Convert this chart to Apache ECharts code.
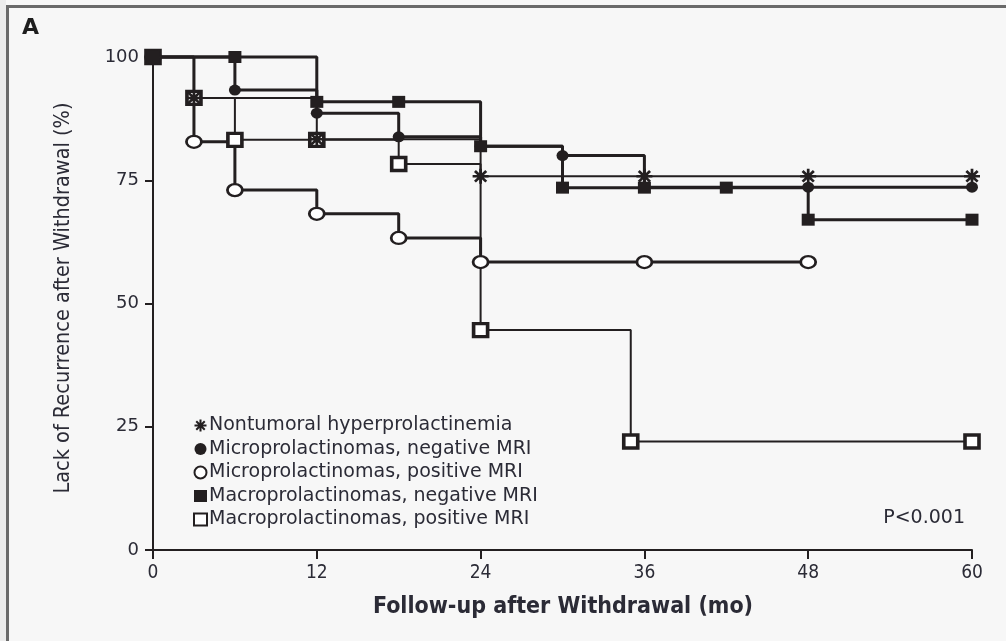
<!DOCTYPE html>
<html>
<head>
<meta charset="utf-8">
<title>Lack of Recurrence after Withdrawal</title>
<script src="https://cdn.jsdelivr.net/npm/echarts/dist/echarts.min.js"></script>
<style>
    html, body { margin: 0; padding: 0; background: #f7f7f7; }
    #main { width: 1006px; height: 641px; }
</style>
</head>
<body>
<div id="main"></div>
<script>
// x 轴刻度（月）
var xTicks = [0, 12, 24, 36, 48, 60];
// y 轴刻度（%）
var yTicks = [0, 25, 50, 75, 100];

// 各组名称
var groupNames = [
    'Nontumoral hyperprolactinemia',
    'Microprolactinomas, negative MRI',
    'Microprolactinomas, positive MRI',
    'Macroprolactinomas, negative MRI',
    'Macroprolactinomas, positive MRI'
];

// Kaplan-Meier 阶梯点：时间 / 无复发比例
var nontumoralTime = [0, 3, 12, 24, 36, 48, 60];
var nontumoralPct  = [100, 91.7, 83.3, 75.8, 75.8, 75.8, 75.8];

var microNegTime = [0, 6, 12, 18, 24, 30, 36, 48, 60];
var microNegPct  = [100, 93.3, 88.6, 83.8, 81.9, 80.0, 73.6, 73.6, 73.6];

var microPosTime = [0, 3, 6, 12, 18, 24, 36, 48];
var microPosPct  = [100, 82.8, 73.0, 68.2, 63.3, 58.4, 58.4, 58.4];

var macroNegTime = [0, 6, 12, 18, 24, 30, 36, 42, 48, 60];
var macroNegPct  = [100, 100, 90.9, 90.9, 81.9, 73.5, 73.5, 73.5, 67.0, 67.0];

var macroPosTime = [0, 3, 6, 12, 18, 24, 35, 60];
var macroPosPct  = [100, 91.7, 83.2, 83.2, 78.3, 44.6, 22.0, 22.0];

var pValueText = 'P<0.001';

var INK = '#231f20';
var TEXT = '#2b2b36';
var NARROW = '"Liberation Sans Narrow", "DejaVu Sans Condensed", sans-serif';
// 星号标记
var ASTERISK = 'path://M-1 -0.17L1 -0.17L1 0.17L-1 0.17Z' +
    'M0.17 -1L0.17 1L-0.17 1L-0.17 -1Z' +
    'M-0.587 -0.827L0.827 0.587L0.587 0.827L-0.827 -0.587Z' +
    'M-0.827 0.587L0.587 -0.827L0.827 -0.587L-0.587 0.827Z';

// 时间+比例 合成点
function ToPoints(time, pct) {
    var out = [];
    for (var i = 0; i < time.length; i++) {
        out.push([time[i], pct[i]]);
    }
    return out;
}

function KmSeries(name, time, pct, width, symbol, size, fill, border) {
    return {
        name: name,
        type: 'line',
        step: 'end',
        clip: false,
        data: ToPoints(time, pct),
        symbol: symbol,
        symbolSize: size,
        showAllSymbol: true,
        lineStyle: { color: INK, width: width },
        itemStyle: { color: fill, borderColor: INK, borderWidth: border },
        emphasis: { disabled: true },
        z: 3
    };
}

function InitChart(id) {
    var Chart = echarts.init(document.getElementById(id), null, { renderer: 'canvas' });
    Chart.setOption({
        animation: false,
        backgroundColor: '#f7f7f7',
        grid: { left: 153, right: 34, top: 57, bottom: 91 },
        xAxis: {
            type: 'value',
            min: xTicks[0],
            max: xTicks[xTicks.length - 1],
            interval: 12,
            axisLine: { lineStyle: { color: INK, width: 2 } },
            axisTick: { show: true, length: 9, lineStyle: { color: INK, width: 2 } },
            axisLabel: {
                margin: 14,
                fontSize: 19,
                color: TEXT,
                fontFamily: NARROW
            },
            splitLine: { show: false }
        },
        yAxis: {
            type: 'value',
            min: yTicks[0],
            max: yTicks[yTicks.length - 1],
            interval: 25,
            axisLine: { show: true, lineStyle: { color: INK, width: 2 } },
            axisTick: { show: true, length: 8, lineStyle: { color: INK, width: 2 } },
            axisLabel: {
                margin: 14,
                fontSize: 18,
                color: TEXT,
                fontFamily: '"DejaVu Sans", sans-serif'
            },
            splitLine: { show: false }
        },
        legend: {
            orient: 'vertical',
            left: 188,
            top: 411,
            itemWidth: 13,
            itemHeight: 12,
            itemGap: 4.5,
            selectedMode: false,
            textStyle: { fontSize: 19, color: TEXT, fontFamily: '"DejaVu Sans", sans-serif', padding: [0, 0, 0, -3] },
            data: [
                { name: groupNames[0], icon: ASTERISK },
                { name: groupNames[1], icon: 'circle' },
                { name: groupNames[2], icon: 'circle' },
                { name: groupNames[3], icon: 'rect' },
                { name: groupNames[4], icon: 'rect' }
            ]
        },
        graphic: [
            // 外框
            { type: 'rect', left: 0, top: 0, shape: { x: 0, y: 0, width: 6, height: 641 }, style: { fill: '#ececec' }, silent: true },
            { type: 'rect', shape: { x: 7.5, y: 6.5, width: 1020, height: 660 }, style: { fill: null, stroke: '#6a6a6a', lineWidth: 3 }, silent: true },
            { type: 'text', left: 22, top: 17, style: { text: 'A', font: 'bold 22px "DejaVu Sans", sans-serif', fill: '#1e1e1e' } },
            // y 轴标题
            {
                type: 'text', x: 63, y: 298, rotation: Math.PI / 2,
                style: {
                    text: 'Lack of Recurrence after Withdrawal (%)',
                    font: '21.5px ' + NARROW,
                    fill: TEXT, align: 'center', verticalAlign: 'middle'
                }
            },
            // x 轴标题
            {
                type: 'text', x: 563, y: 607,
                style: {
                    text: 'Follow-up after Withdrawal (mo)',
                    font: 'bold 23px ' + NARROW,
                    fill: TEXT, align: 'center', verticalAlign: 'middle'
                }
            },
            {
                type: 'text', x: 965, y: 518,
                style: { text: pValueText, font: '19px "DejaVu Sans", sans-serif', fill: TEXT, align: 'right', verticalAlign: 'middle' }
            }
        ],
        series: [
            KmSeries(groupNames[4], macroPosTime, macroPosPct, 2, 'rect', [14, 13], '#ffffff', 3.5),
            KmSeries(groupNames[0], nontumoralTime, nontumoralPct, 2, ASTERISK, [16, 15], INK, 0),
            KmSeries(groupNames[2], microPosTime, microPosPct, 3, 'circle', [15, 12], '#ffffff', 2.5),
            KmSeries(groupNames[1], microNegTime, microNegPct, 3, 'circle', [12, 11], INK, 0),
            KmSeries(groupNames[3], macroNegTime, macroNegPct, 3, 'rect', [13, 12], INK, 0)
        ]
    });
}

InitChart('main');
</script>
</body>
</html>
